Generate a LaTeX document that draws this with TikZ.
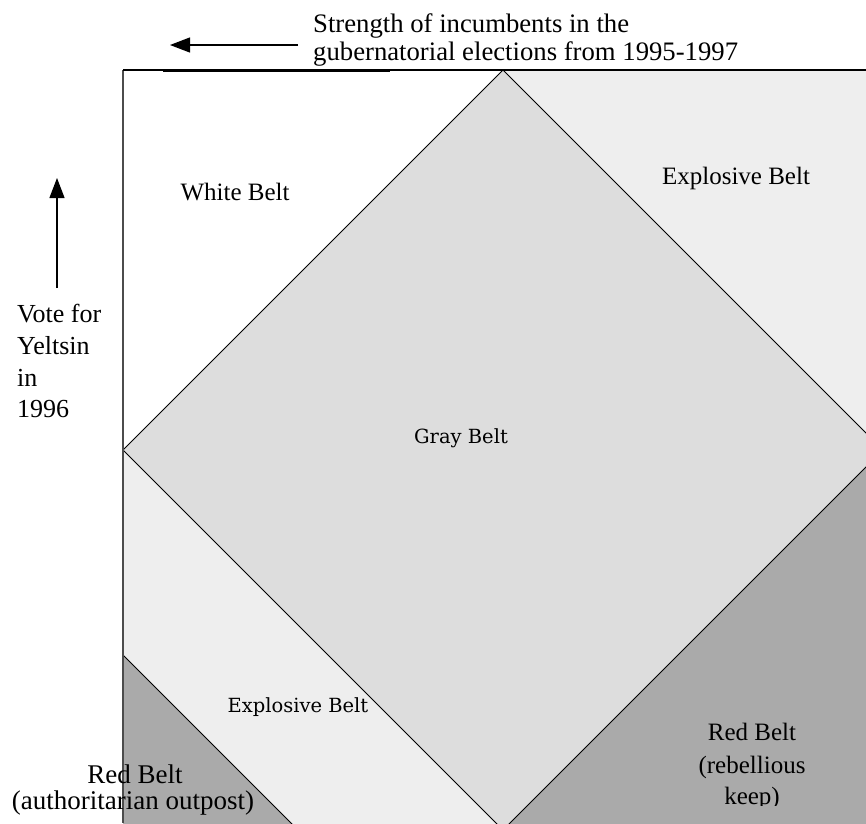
\documentclass[tikz,border=0pt]{standalone}
\usepackage{fontspec}
\setmainfont{Liberation Serif}
\newfontfamily\oddfont{DejaVu Serif}
\usetikzlibrary{arrows.meta}
\definecolor{lightbelt}{gray}{0.933}
\definecolor{graybelt}{gray}{0.867}
\definecolor{redbelt}{gray}{0.667}
\begin{document}
\begin{tikzpicture}[x=1pt,y=-1pt,
  lbl/.style={font=\fontsize{25}{30}\selectfont, inner sep=0pt, anchor=base},
  lblw/.style={lbl, anchor=base west},
  oddlbl/.style={font=\oddfont\fontsize{19.5}{24}\selectfont, inner sep=0pt, anchor=base},
  beltedge/.style={draw=black, line width=0.8pt},
  arr/.style={line width=1.2pt, -{Triangle[length=20pt,width=15pt]}},
]
\useasboundingbox (0,0) rectangle (866,823);
\fill[white] (0,0) rectangle (866,823);
\begin{scope}
  \clip (123,70) rectangle (866,823);
  \coordinate (dT) at (503,70);
  \coordinate (dR) at (883,450);
  \coordinate (dB) at (503,830);
  \coordinate (dL) at (123,450);
  \coordinate (rA) at (123,655);
  \coordinate (rB) at (298,830);
  \fill[lightbelt] (dT) -- (883,70) -- (dR) -- cycle;
  \fill[graybelt] (dT) -- (dR) -- (dB) -- (dL) -- cycle;
  \fill[lightbelt] (dL) -- (dB) -- (rB) -- (rA) -- cycle;
  \fill[redbelt] (rA) -- (rB) -- (123,830) -- cycle;
  \fill[redbelt] (dR) -- (883,830) -- (dB) -- cycle;
  \draw[beltedge] (dT) -- (dR) -- (dB) -- (dL) -- cycle;
  \draw[beltedge] (rA) -- (rB);
\end{scope}
% borders
\draw[line width=1.6pt, black!70] (123,70) -- (123,823);
\draw[line width=2pt] (123,70) -- (866,70);
\draw[line width=1.5pt] (163,71.2) -- (390,71.2);
% axis arrows
\coordinate (hS) at (298,45);
\coordinate (hE) at (170,45);
\draw[arr] (hS) -- (hE);
\coordinate (vS) at (57,288);
\coordinate (vE) at (57,178);
\draw[arr] (vS) -- (vE);
% axis labels
\node[lblw, font=\fontsize{26.7}{30}\selectfont] (h1) at (313,32) {Strength of incumbents in the};
\node[lblw, font=\fontsize{26.7}{30}\selectfont] (h2) at (313,60) {gubernatorial elections from 1995-1997};
\node[lblw, font=\fontsize{26}{30}\selectfont] (v1) at (17,322) {Vote for};
\node[lblw, font=\fontsize{26}{30}\selectfont] (v2) at (17,354) {Yeltsin};
\node[lblw, font=\fontsize{26}{30}\selectfont] (v3) at (17,386) {in};
\node[lblw, font=\fontsize{26}{30}\selectfont] (v4) at (17,417) {1996};
% belt labels
\node[lbl] (white) at (235,200) {White Belt};
\node[lbl] (expl1) at (736,184) {Explosive Belt};
\node[oddlbl] (gray) at (461,443) {Gray Belt};
\node[oddlbl] (expl2) at (298,712) {Explosive Belt};
\node[lbl, font=\fontsize{27}{30}\selectfont] (redl1) at (135,783) {Red Belt};
\node[lbl, font=\fontsize{27}{30}\selectfont] (redl2) at (133,809) {(authoritarian outpost)};
\begin{scope}
  \clip (600,700) rectangle (866,805);
  \node[lbl] (redr1) at (752,740) {Red Belt};
  \node[lbl] (redr2) at (752,773) {(rebellious};
  \node[lbl] (redr3) at (752,804) {keep)};
\end{scope}
\end{tikzpicture}
\end{document}
